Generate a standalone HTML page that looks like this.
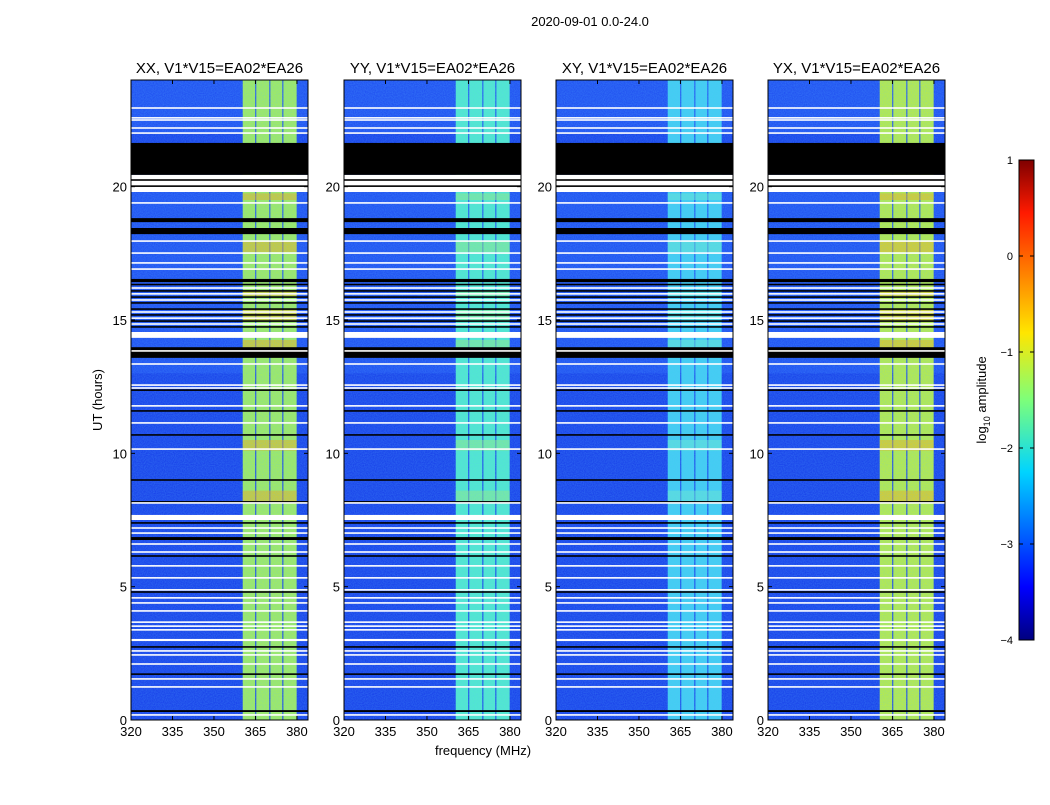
<!DOCTYPE html>
<html><head><meta charset="utf-8"><style>
body{margin:0;background:#fff;width:1050px;height:800px;overflow:hidden}
svg{font-family:"Liberation Sans",sans-serif}
</style></head><body>
<svg id="fig" width="1050" height="800">
<defs>
<linearGradient id="jet" x1="0" y1="1" x2="0" y2="0">
<stop offset="0" stop-color="#00007f"/><stop offset="0.11" stop-color="#0000ff"/>
<stop offset="0.35" stop-color="#00d4ff"/><stop offset="0.5" stop-color="#7dff7a"/>
<stop offset="0.64" stop-color="#ffe600"/><stop offset="0.89" stop-color="#ff1a00"/>
<stop offset="1" stop-color="#7f0000"/></linearGradient>
<filter id="nz" x="0" y="0" width="1" height="1"><feTurbulence type="fractalNoise" baseFrequency="0.9" numOctaves="1" seed="3"/><feColorMatrix values="0 0 0 0 0.1  0 0 0 0 0.5  0 0 0 0 1  0 0 0 0.4 0"/><feComposite in2="SourceGraphic" operator="in"/></filter>
</defs>
<text x="590" y="26" font-size="13" text-anchor="middle">2020-09-01 0.0-24.0</text>
<text x="483" y="755" font-size="13" text-anchor="middle">frequency (MHz)</text>
<text transform="translate(102,400) rotate(-90)" font-size="13" text-anchor="middle">UT (hours)</text>
<g id="panels"></g>
<g>
<rect x="1019" y="160" width="15" height="480" fill="url(#jet)" stroke="#000" stroke-width="1"/>
<g id="cbticks"></g>
<text transform="translate(986,400) rotate(-90)" font-size="13" text-anchor="middle">log<tspan font-size="9" dy="4">10</tspan><tspan dy="-4"> amplitude</tspan></text>
</g>
</svg>
<script>
const panelTitles=["XX, V1*V15=EA02*EA26","YY, V1*V15=EA02*EA26","XY, V1*V15=EA02*EA26","YX, V1*V15=EA02*EA26"];
const panelLefts=[131,344,556,768];
const bandColors=["#a8f050","#50eec8","#40d0f0","#c0f038"];
const hotColors=["#ffa800","#a0f070","#70f0c8","#ffb000"];
const xTicks=[320,335,350,365,380];
const yTicks=[0,5,10,15,20];
const cbTicks=[1,0,-1,-2,-3,-4];
const bandCols=[[360.4,364.9],[365.3,370.0],[370.4,374.7],[375.1,379.9]];
const lightRows=[[13.0,19.8],[22.0,24.0]];
const hotRows=[[19.5,19.75],[17.55,17.95],[15.9,16.1],[14.95,15.4],[13.95,14.25],[13.6,13.75],[8.2,8.6],[10.1,10.5]];
const blackBands=[[20.44,21.64],[18.67,18.82],[18.22,18.45],[16.42,16.54],[13.58,13.98],[6.75,6.86],[0.3,0.37]];
const blackLines=[20.25,20.02,16.33,16.09,15.86,15.64,15.41,15.19,14.96,14.74,12.37,11.59,10.69,9.0,8.18,7.39,6.15,4.8,2.74,1.72];
const whiteBands=[[19.8,20.44],[14.33,14.55],[7.5,7.69],[2.96,3.04]];
const whiteLines=[22.95,22.58,22.5,22.2,22.01,19.39,17.96,17.51,17.14,16.91,16.2,15.98,15.75,15.3,15.07,14.85,13.84,13.35,12.56,12.45,11.78,11.14,10.16,8.14,7.2,7.01,6.6,6.3,5.78,5.33,4.88,4.58,4.39,4.09,3.67,3.52,3.38,2.59,2.44,2.1,1.54,1.24,0.19];

const NS="http://www.w3.org/2000/svg";
const top0=80,H=640,W=177,fmin=320,fmax=384,tmax=24;
function el(t,a,p){const e=document.createElementNS(NS,t);for(const k in a)e.setAttribute(k,a[k]);p.appendChild(e);return e;}
function yS(h){return top0+H*(1-h/tmax);}
const root=document.getElementById('panels');
panelTitles.forEach((title,i)=>{
  const L=panelLefts[i];const xS=f=>L+(f-fmin)/(fmax-fmin)*W;
  const g=el('g',{},root);
  
  
  const bg=el('rect',{x:L,y:top0,width:W,height:H,fill:'#1438e8'},g);
  
  
  lightRows.forEach(r=>{const e=el('rect',{x:L,y:yS(r[1]),width:W,height:yS(r[0])-yS(r[1]),fill:'#1c48f0'},g);
    });
  bandCols.forEach(c=>{const e=el('rect',{x:xS(c[0]),y:top0,width:xS(c[1])-xS(c[0]),height:H,fill:bandColors[i]},g);
    });
  hotRows.forEach(r=>{const e=el('rect',{x:xS(bandCols[0][0]),y:yS(r[1]),width:xS(bandCols[3][1])-xS(bandCols[0][0]),height:yS(r[0])-yS(r[1]),fill:hotColors[i],opacity:0.5},g);
    });
  const nz=el('rect',{x:L,y:top0,width:W,height:H,fill:'#000',filter:'url(#nz)'},g);
  
  blackBands.forEach(r=>{const e=el('rect',{x:L,y:yS(r[1]),width:W,height:yS(r[0])-yS(r[1]),fill:'#000'},g);
    });
  whiteBands.forEach(r=>{const e=el('rect',{x:L,y:yS(r[1]),width:W,height:yS(r[0])-yS(r[1]),fill:'#fff'},g);
    });
  blackLines.forEach(h=>{const e=el('rect',{x:L,y:yS(h)-0.8,width:W,height:1.6,fill:'#000'},g);
    });
  whiteLines.forEach(h=>{const e=el('rect',{x:L,y:yS(h)-0.8,width:W,height:1.6,fill:'#fff'},g);
    });
  const fr=el('rect',{x:L,y:top0,width:W,height:H,fill:'none',stroke:'#000','stroke-width':1},g);
  
  const t=el('text',{x:L+W/2,y:73,'font-size':15,'text-anchor':'middle'},g);t.textContent=title;
  
  xTicks.forEach(v=>{const x=xS(v);
    el('line',{x1:x,x2:x,y1:top0+H,y2:top0+H-4,stroke:'#000'},g);
    el('line',{x1:x,x2:x,y1:top0,y2:top0+4,stroke:'#000'},g);
    const tx=el('text',{x:x,y:top0+H+16,'font-size':13,'text-anchor':'middle'},g);tx.textContent=v;
    });
  yTicks.forEach(v=>{const y=yS(v);
    el('line',{x1:L,x2:L+4,y1:y,y2:y,stroke:'#000'},g);
    el('line',{x1:L+W,x2:L+W-4,y1:y,y2:y,stroke:'#000'},g);
    const ty=el('text',{x:L-4,y:y+5,'font-size':13,'text-anchor':'end'},g);ty.textContent=v;
    });
});
const cb=document.getElementById('cbticks');
cbTicks.forEach(v=>{const y=160+(1-v)/5*480;
  el('line',{x1:1019,x2:1023,y1:y,y2:y,stroke:'#000'},cb);
  el('line',{x1:1034,x2:1030,y1:y,y2:y,stroke:'#000'},cb);
  const t=el('text',{x:1013,y:y+4,'font-size':11,'text-anchor':'end'},cb);t.textContent=v<0?'\u2212'+(-v):v;
  });
</script>
</body></html>
